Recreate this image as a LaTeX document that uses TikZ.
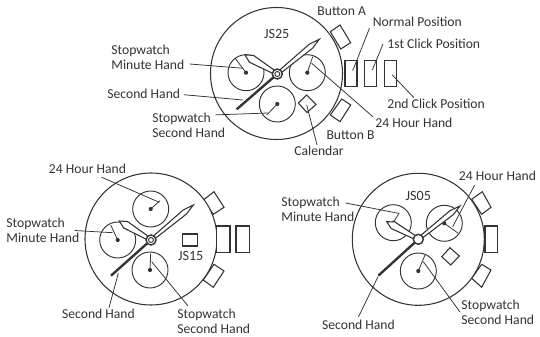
\documentclass[tikz,border=0pt]{standalone}
\usepackage{fontspec}
\setmainfont{Carlito}
\usetikzlibrary{calc}
\definecolor{ink}{HTML}{333333}
\tikzset{
  outline/.style={draw=ink, line width=0.9pt, fill=white},
  leader/.style={draw=ink, line width=0.65pt},
  seconds/.style={draw=ink, line width=2pt},
  tag/.style={text=ink, inner sep=1pt, align=center, font=\fontsize{11.6}{12.6}\selectfont},
  tagleft/.style={tag, align=left, anchor=west},
  model/.style={tag, inner sep=0pt, font=\fontsize{12}{13}\selectfont}
}
\newcommand{\watchhand}[3]{\draw[outline] ($(#1)!1.2pt!90:(#2)$) -- ($(#1)!0.8!(#2)!#3!90:(#2)$) -- (#2) -- ($(#1)!0.8!(#2)!#3!-90:(#2)$) -- ($(#1)!1.2pt!-90:(#2)$) -- cycle;}
\newcommand{\subdial}[2]{%
  \draw[draw=ink, line width=0.8pt] (#1) circle (18);
  \fill[ink] (#1) circle (2.1);
  \draw[leader] (#1) -- (#2);
}
\begin{document}
\begin{tikzpicture}[x=0.85pt, y=-0.85pt]
  \useasboundingbox (0,0) rectangle (540,337);

  % top watch
  \draw[outline] (330.3,31.7) -- (340,25) -- (350.7,42.7) -- (340.7,49) -- cycle;
  \draw[outline] (330.3,115) -- (341.7,99) -- (350.7,105) -- (340,121.7) -- cycle;
  \draw[outline] (276.5,73.5) circle (66);
  \subdial{246,72.7}{235,58}
  \subdial{307.3,72.7}{312.7,56.7}
  \subdial{277.3,104}{266.7,115}
  \draw[outline] (306.7,95) -- (316,104.5) -- (307,112.5) -- (298.3,103) -- cycle;
  \foreach \rx in {345,364.5,384.5} {
    \draw[outline] (\rx,60.7) rectangle (\rx+12,86.7);
  }
  \coordinate (tp) at (277.3,74);
  \draw[seconds] (tp) -- (236.7,109.3);
  \watchhand{tp}{245,55}{3.4pt}
  \watchhand{tp}{319.3,39.3}{2.2pt}
  \draw[outline, line width=1.2pt] (tp) circle (5);
  \draw[draw=ink, line width=0.8pt] (tp) circle (2.5);
  \node[model] (tmodel) at (276.7,34.3) {JS25};

  \node[tag] (tbuta) at (341.7,10.7) {Button A};
  \node[tag] (tbutb) at (350.5,135) {Button B};
  \node[tag] (tcal) at (319,151) {Calendar};
  \node[tagleft] (tnorm) at (371.5,22) {Normal Position};
  \node[tagleft] (tfirst) at (386,44) {1st Click Position};
  \node[tagleft] (tsecond) at (386,104) {2nd Click Position};
  \node[tagleft] (thour) at (374,123) {24 Hour Hand};
  \node[tagleft] (tmin) at (110,57.5) {Stopwatch\\Minute Hand};
  \node[tagleft] (tsec) at (106,93.7) {Second Hand};
  \node[tagleft] (tstop) at (151,125.5) {Stopwatch\\Second Hand};

  \coordinate (tminend) at (243.3,68.3);
  \coordinate (tsecend) at (243,100);
  \coordinate (tstopend) at (268,113);
  \coordinate (thourend) at (311.7,63.3);
  \coordinate (tnormend) at (352.7,70.7);
  \coordinate (tfirstend) at (372.3,70);
  \coordinate (tsecondend) at (392.3,75);
  \coordinate (tcalend) at (306.7,105);
  \draw[leader] (tmin.east) ++(4,6.5) -- (tminend);
  \draw[leader] (tsec.east) ++(2,1) -- (tsecend);
  \draw[leader] (tstop.north east) ++(-11,3) -- (tstopend);
  \draw[leader] (thour.north west) ++(-1,0) -- (thourend);
  \draw[leader] (tnorm.south west) ++(-2,0) -- (tnormend);
  \draw[leader] (tfirst.west) ++(-3,0) -- (tfirstend);
  \draw[leader] (tsecond.north west) ++(28,0) -- (tsecondend);
  \draw[leader] (tcal.north) ++(-2,0) -- (tcalend);

  % bottom left watch
  \draw[outline] (203.3,200) -- (214,191.7) -- (224,207.3) -- (213.3,214.3) -- cycle;
  \draw[outline] (203.3,280) -- (214,264.3) -- (224,271) -- (213.3,287.3) -- cycle;
  \draw[outline] (151,239) circle (66);
  \subdial{150.7,209}{160,200.7}
  \subdial{117.7,240}{110.7,225}
  \subdial{150,270}{150.7,253.3}
  \draw[outline] (182.7,234) rectangle (197.3,246);
  \foreach \rx in {216.7,236} {
    \draw[outline] (\rx,226) rectangle (\rx+13.3,252.3);
  }
  \coordinate (lp) at (151,240);
  \draw[seconds] (lp) -- (111,275.7);
  \watchhand{lp}{119.3,221}{3.2pt}
  \watchhand{lp}{193.3,205}{2.2pt}
  \draw[outline, line width=1.2pt] (lp) circle (5);
  \draw[draw=ink, line width=0.8pt] (lp) circle (2.5);
  \node[model] (lmodel) at (190.7,256) {JS15};

  \node[tag] (lhour) at (87.5,169) {24 Hour Hand};
  \node[tagleft] (lmin) at (5,230) {Stopwatch\\Minute Hand};
  \node[tag] (lsec) at (98.5,314) {Second Hand};
  \node[tagleft] (lstop) at (176,321.5) {Stopwatch\\Second Hand};

  \coordinate (lhourend) at (159.3,202.3);
  \coordinate (lminend) at (112.7,232.7);
  \coordinate (lsecend) at (118.3,273.3);
  \coordinate (lstopend) at (151.7,261.7);
  \draw[leader] (lhour.south) ++(14,2) -- (lhourend);
  \draw[leader] (lmin.east) ++(-6,0.5) -- (lminend);
  \draw[leader] (lsec.north) ++(10.5,0) -- (lsecend);
  \draw[leader] (lstop.north west) ++(12,-2) -- (lstopend);

  % bottom right watch
  \draw[outline] (471.7,199.3) -- (482.3,191.7) -- (491,207.3) -- (481.7,214.3) -- cycle;
  \draw[outline] (471.7,278.3) -- (481.7,264.3) -- (491,270) -- (481.7,287.3) -- cycle;
  \draw[outline] (418.3,239.3) circle (66);
  \subdial{393.3,222.7}{399.3,212.7}
  \subdial{444.3,223.3}{458.3,233.3}
  \subdial{418.3,271}{425,255}
  \draw[outline] (441.7,256.7) -- (450,247.7) -- (459.3,256) -- (450.7,265) -- cycle;
  \draw[outline] (485,226) rectangle (497.7,252.3);
  \coordinate (rp) at (418.3,239.3);
  \draw[seconds] (rp) -- (378.3,275.7);
  \watchhand{rp}{386.7,221.7}{3.2pt}
  \watchhand{rp}{460,206}{2.2pt}
  \draw[outline, line width=1.2pt] (rp) circle (5);
  \node[model] (rmodel) at (418.3,195.7) {JS05};

  \node[tag] (rhour) at (497.5,176) {24 Hour Hand};
  \node[tagleft] (rmin) at (280,209) {Stopwatch\\Minute Hand};
  \node[tag] (rsec) at (358.5,325) {Second Hand};
  \node[tagleft] (rstop) at (460,312) {Stopwatch\\Second Hand};

  \coordinate (rminend) at (398.3,213.3);
  \coordinate (rhourend) at (452.7,226.7);
  \coordinate (rsecend) at (378,276.7);
  \coordinate (rstopend) at (423.3,261.7);
  \draw[leader] (rmin.east) ++(-10,-6) -- (rminend);
  \draw[leader] (rhour.south west) ++(17,3) -- (rhourend);
  \draw[leader] (rsec.north) ++(0,-2) -- (rsecend);
  \draw[leader] (rstop.west) -- (rstopend);
\end{tikzpicture}
\end{document}
